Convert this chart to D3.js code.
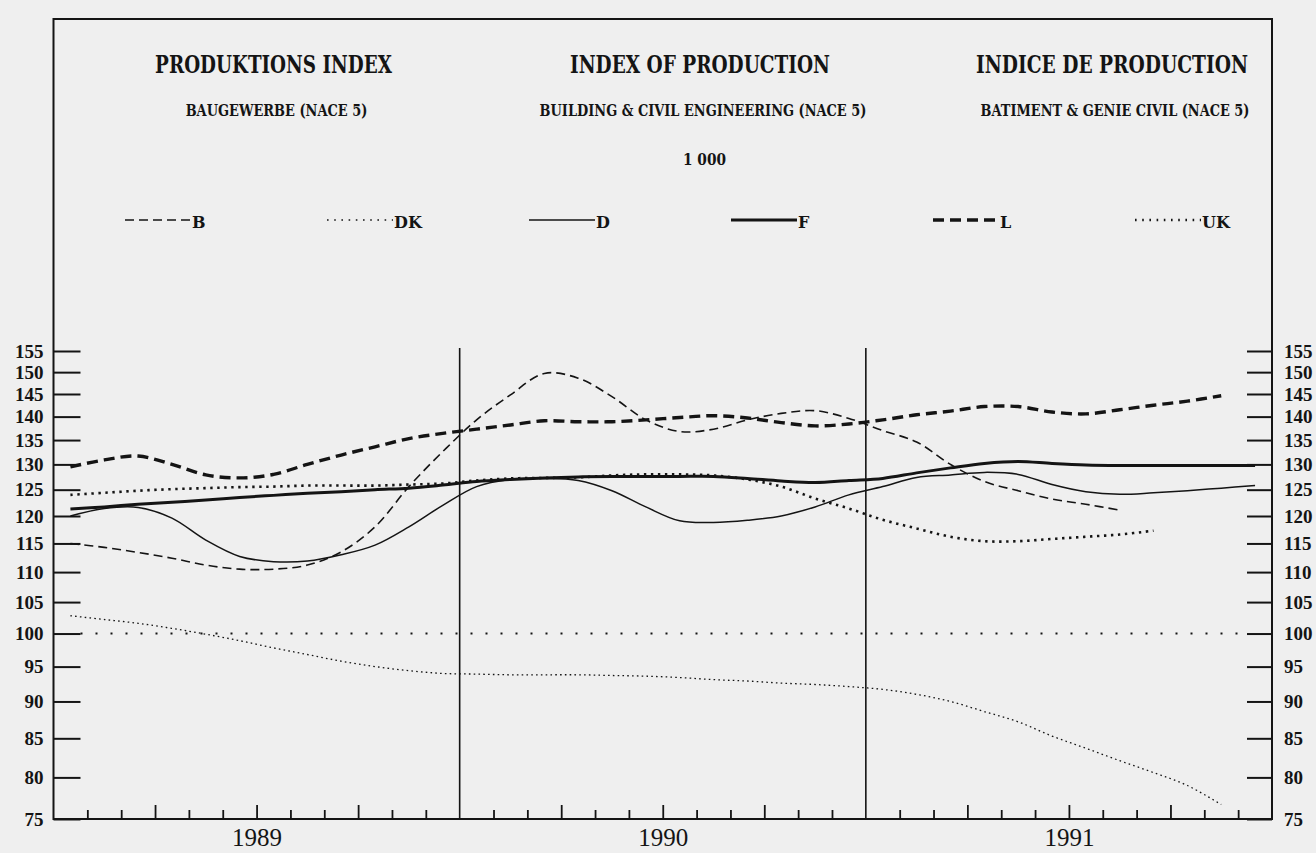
<!DOCTYPE html>
<html>
<head>
<meta charset="utf-8">
<script src="https://cdn.jsdelivr.net/npm/d3@7"></script>
<style>
  html, body { margin: 0; padding: 0; background: #efefef; }
  svg { display: block; }
</style>
</head>
<body>
<svg id="chart" width="1316" height="853"></svg>
<script>
// ---------------- DATA ----------------
const months = [
  "1989-01","1989-02","1989-03","1989-04","1989-05","1989-06","1989-07","1989-08","1989-09","1989-10","1989-11","1989-12",
  "1990-01","1990-02","1990-03","1990-04","1990-05","1990-06","1990-07","1990-08","1990-09","1990-10","1990-11","1990-12",
  "1991-01","1991-02","1991-03","1991-04","1991-05","1991-06","1991-07","1991-08","1991-09","1991-10","1991-11","1991-12"
];
const years = ["1989", "1990", "1991"];
const yTickValues = [75, 80, 85, 90, 95, 100, 105, 110, 115, 120, 125, 130, 135, 140, 145, 150, 155];
const referenceValue = 100;

const seriesNames = ["B", "DK", "D", "F", "L", "UK"];

const valuesB = [115.0, 114.3, 113.4, 112.4, 111.2, 110.5, 110.5, 111.2, 113.5, 118.0, 125.6, 132.6,
                 139.3, 144.8, 149.7, 148.6, 144.4, 139.3, 136.8, 137.3, 139.3, 140.7, 141.3, 139.6,
                 137.0, 134.6, 130.0, 126.6, 124.8, 123.2, 122.2, 121.1];
const valuesDK = [102.8, 102.2, 101.6, 100.8, 99.9, 98.9, 97.8, 96.8, 95.8, 95.0, 94.4, 94.0,
                  93.9, 93.8, 93.8, 93.8, 93.7, 93.6, 93.4, 93.1, 92.9, 92.6, 92.4, 92.1,
                  91.7, 91.0, 90.0, 88.6, 87.2, 85.3, 83.7, 82.1, 80.6, 79.0, 76.7];
const valuesD = [120.0, 121.4, 121.6, 119.6, 115.6, 112.7, 111.8, 111.9, 113.0, 114.7, 118.0, 122.0,
                 125.6, 127.0, 127.2, 126.8, 124.8, 121.7, 119.1, 118.8, 119.2, 120.0, 121.7, 124.0,
                 125.6, 127.4, 127.9, 128.4, 128.0, 126.0, 124.6, 124.1, 124.4, 124.8, 125.3, 125.8];
const valuesF = [121.3, 121.7, 122.2, 122.6, 123.0, 123.5, 123.9, 124.3, 124.6, 125.0, 125.3, 125.9,
                 126.6, 127.0, 127.3, 127.5, 127.6, 127.6, 127.6, 127.6, 127.2, 126.7, 126.4, 126.8,
                 127.2, 128.3, 129.3, 130.2, 130.6, 130.2, 129.9, 129.8, 129.8, 129.8, 129.8, 129.8];
const valuesL = [129.5, 130.9, 131.7, 130.0, 127.9, 127.3, 128.0, 130.0, 131.9, 133.6, 135.3, 136.4,
                 137.3, 138.2, 139.1, 138.9, 138.9, 139.3, 139.8, 140.2, 139.7, 138.7, 138.0, 138.4,
                 139.3, 140.4, 141.2, 142.2, 142.2, 141.0, 140.6, 141.5, 142.5, 143.4, 144.6];
const valuesUK = [124.0, 124.4, 124.8, 125.1, 125.3, 125.5, 125.6, 125.8, 125.8, 125.8, 126.0, 126.2,
                  126.8, 127.2, 127.3, 127.4, 127.8, 128.0, 128.0, 127.8, 127.0, 125.6, 123.3, 121.4,
                  119.3, 117.7, 116.2, 115.4, 115.4, 115.8, 116.2, 116.6, 117.3];

const titles = ["PRODUKTIONS INDEX", "INDEX OF PRODUCTION", "INDICE DE PRODUCTION"];
const subtitles = ["BAUGEWERBE (NACE 5)", "BUILDING & CIVIL ENGINEERING (NACE 5)", "BATIMENT & GENIE CIVIL (NACE 5)"];
const unitLabel = "1 000";

// ---------------- STYLES / LAYOUT ----------------
const seriesValues = { B: valuesB, DK: valuesDK, D: valuesD, F: valuesF, L: valuesL, UK: valuesUK };
const seriesStyle = {
  B:  { width: 1.6, dash: "9,5" },
  DK: { width: 1.3, dash: "1.6,3.2" },
  D:  { width: 1.5, dash: null },
  F:  { width: 3.0, dash: null },
  L:  { width: 3.4, dash: "11,6" },
  UK: { width: 2.6, dash: "2.4,4.6" }
};
const drawOrder = ["DK", "B", "D", "UK", "F", "L"];
const ink = "#141414";

const plot = { left: 53.5, right: 1272, top: 19, bottom: 819, yTop: 351 };
const titleCols = [
  { cx: 273.5, tw: 237, sw: 182 },
  { cx: 700,   tw: 260, sw: 327 },
  { cx: 1112,  tw: 272, sw: 269 }
];

const svg = d3.select("#chart");

// scales
const x = d3.scaleLinear().domain([0, months.length]).range([plot.left, plot.right]);
const y = d3.scaleLog().domain([75, 155]).range([plot.bottom, plot.yTop]);

// frame
svg.append("rect")
  .attr("x", plot.left).attr("y", plot.top)
  .attr("width", plot.right - plot.left).attr("height", plot.bottom - plot.top)
  .attr("fill", "none").attr("stroke", ink).attr("stroke-width", 2);

// condensed centred text: real text, horizontally scaled to the target width
const serif = "'DejaVu Serif', 'Liberation Serif', serif";
function condensedText(str, cx, baseline, size, targetWidth) {
  const g = svg.append("g");
  const t = g.append("text")
    .attr("x", 0).attr("y", 0)
    .attr("text-anchor", "middle")
    .attr("font-family", serif).attr("font-weight", "bold").attr("font-size", size)
    .attr("fill", ink).text(str);
  const natural = t.node().getComputedTextLength() || targetWidth;
  g.attr("transform", `translate(${cx},${baseline}) scale(${targetWidth / natural},1)`);
}
titles.forEach((t, i) => condensedText(t, titleCols[i].cx, 73, 25, titleCols[i].tw));
subtitles.forEach((t, i) => condensedText(t, titleCols[i].cx + 3, 116, 16, titleCols[i].sw));
condensedText(unitLabel, 704.5, 165, 16, 43);

// legend
const legendX = d3.scalePoint().domain(seriesNames).range([191, 1201]);
const legendY = 220;
const legend = svg.append("g");
seriesNames.forEach(name => {
  const st = seriesStyle[name];
  const xe = legendX(name);
  legend.append("line")
    .attr("x1", xe - 66).attr("x2", xe).attr("y1", legendY).attr("y2", legendY)
    .attr("stroke", ink).attr("stroke-width", st.width)
    .attr("stroke-dasharray", name === "DK" || name === "UK" ? "1.6,5.6" : st.dash);
  legend.append("text")
    .attr("x", xe + 1).attr("y", legendY + 8)
    .attr("font-family", serif).attr("font-weight", "bold").attr("font-size", 16)
    .attr("fill", ink).text(name);
});

// y axes
function styleAxis(g) {
  g.select(".domain").remove();
  g.selectAll(".tick line").attr("stroke", ink).attr("stroke-width", 2);
  g.selectAll(".tick text")
    .attr("fill", ink)
    .attr("font-family", "'Liberation Serif', 'DejaVu Serif', serif")
    .attr("font-weight", "bold")
    .attr("font-size", 19);
}
svg.append("g")
  .attr("transform", `translate(${plot.left},0)`)
  .call(d3.axisLeft(y).tickValues(yTickValues).tickFormat(d3.format("d")).tickSize(-27).tickPadding(10))
  .call(styleAxis);
svg.append("g")
  .attr("transform", `translate(${plot.right},0)`)
  .call(d3.axisRight(y).tickValues(yTickValues).tickFormat(d3.format("d")).tickSize(-25).tickPadding(12))
  .call(styleAxis);

// x axis month ticks
const boundaries = d3.range(1, months.length);
const yearBounds = boundaries.filter(m => m % 12 === 0);
const quarterTicks = boundaries.filter(m => m % 3 === 0 && m % 12 !== 0);
const monthTicks = boundaries.filter(m => m % 3 !== 0);
function styleXTicks(g) {
  g.select(".domain").remove();
  g.selectAll(".tick line").attr("stroke", ink).attr("stroke-width", 1.8);
}
svg.append("g").attr("transform", `translate(0,${plot.bottom})`)
  .call(d3.axisBottom(x).tickValues(monthTicks).tickSize(-9).tickFormat(""))
  .call(styleXTicks);
svg.append("g").attr("transform", `translate(0,${plot.bottom})`)
  .call(d3.axisBottom(x).tickValues(quarterTicks).tickSize(-14).tickFormat(""))
  .call(styleXTicks);

// year labels
const yearAxis = svg.append("g").attr("transform", `translate(0,${plot.bottom})`)
  .call(d3.axisBottom(x).tickValues(years.map((yr, i) => i * 12 + 6)).tickFormat((d, i) => years[i]).tickSize(0).tickPadding(9));
yearAxis.select(".domain").remove();
yearAxis.selectAll("text")
  .attr("font-family", "'Liberation Serif', serif").attr("font-size", 25).attr("fill", ink);

// year separators
svg.selectAll("line.yearsep").data(yearBounds).enter().append("line")
  .attr("class", "yearsep")
  .attr("x1", d => x(d)).attr("x2", d => x(d))
  .attr("y1", y(155) - 3).attr("y2", plot.bottom)
  .attr("stroke", ink).attr("stroke-width", 1.6);

// reference line at 100
svg.append("line")
  .attr("x1", plot.left + 27).attr("x2", plot.right - 25)
  .attr("y1", y(referenceValue)).attr("y2", y(referenceValue))
  .attr("stroke", ink).attr("stroke-width", 2).attr("stroke-dasharray", "2,13");

// series
const line = d3.line()
  .x((d, i) => x(i + 0.5))
  .y(d => y(d))
  .curve(d3.curveCatmullRom.alpha(0.5));
drawOrder.forEach(name => {
  const st = seriesStyle[name];
  svg.append("path")
    .datum(seriesValues[name])
    .attr("d", line)
    .attr("fill", "none")
    .attr("stroke", ink)
    .attr("stroke-width", st.width)
    .attr("stroke-dasharray", st.dash)
    .attr("stroke-linejoin", "round");
});

// bottom axis line
svg.append("line")
  .attr("x1", plot.left).attr("x2", plot.right)
  .attr("y1", plot.bottom).attr("y2", plot.bottom)
  .attr("stroke", ink).attr("stroke-width", 2.2);
</script>
</body>
</html>
